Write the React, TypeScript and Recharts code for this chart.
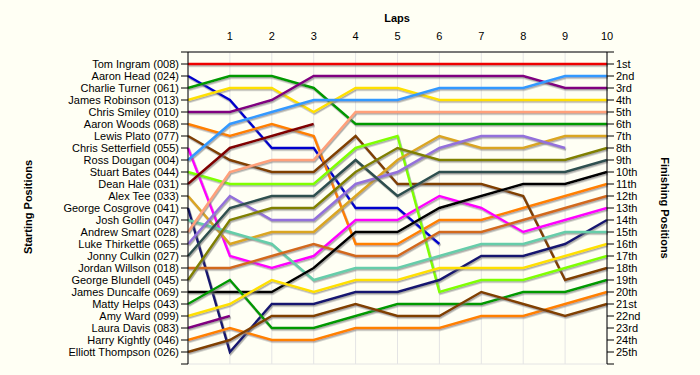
import { CartesianGrid, Line, LineChart, XAxis, YAxis } from "recharts";

const laps = [0, 1, 2, 3, 4, 5, 6, 7, 8, 9, 10];

const starters = [
  "Tom Ingram (008)",
  "Aaron Head (024)",
  "Charlie Turner (061)",
  "James Robinson (013)",
  "Chris Smiley (010)",
  "Aaron Woods (068)",
  "Lewis Plato (077)",
  "Chris Setterfield (055)",
  "Ross Dougan (004)",
  "Stuart Bates (044)",
  "Dean Hale (031)",
  "Alex Tee (033)",
  "George Cosgrove (041)",
  "Josh Gollin (047)",
  "Andrew Smart (028)",
  "Luke Thirkettle (065)",
  "Jonny Culkin (027)",
  "Jordan Willson (018)",
  "George Blundell (045)",
  "James Duncalfe (069)",
  "Matty Helps (043)",
  "Amy Ward (099)",
  "Laura Davis (083)",
  "Harry Kightly (046)",
  "Elliott Thompson (026)",
];

const finishLabels = [
  "1st", "2nd", "3rd", "4th", "5th", "6th", "7th", "8th", "9th", "10th",
  "11th", "12th", "13th", "14th", "15th", "16th", "17th", "18th", "19th", "20th",
  "21st", "22nd", "23rd", "24th", "25th",
];

// position at each lap (lap 0 = grid), shorter arrays = retired
const tomIngram = [1, 1, 1, 1, 1, 1, 1, 1, 1, 1, 1];
const aaronHead = [2, 4, 8, 8, 13, 13, 16];
const charlieTurner = [3, 2, 2, 3, 6, 6, 6, 6, 6, 6, 6];
const jamesRobinson = [4, 3, 3, 5, 3, 3, 4, 4, 4, 4, 4];
const chrisSmiley = [5, 5, 4, 2, 2, 2, 2, 2, 2, 3, 3];
const aaronWoods = [6, 7, 6, 7, 16, 16, 14, 14, 13, 12, 11];
const lewisPlato = [7, 9, 10, 10, 7, 11, 11, 11, 12, 19, 18];
const chrisSetterfield = [8, 17, 18, 17, 14, 14, 12, 13, 15, 14, 13];
const rossDougan = [9, 6, 5, 4, 4, 4, 3, 3, 3, 2, 2];
const stuartBates = [10, 11, 11, 11, 8, 7, 20, 19, 19, 18, 17];
const deanHale = [11, 8, 7, 6];
const alexTee = [12, 16, 15, 15, 12, 9, 7, 8, 8, 7, 7];
const georgeCosgrove = [13, 25, 21, 21, 20, 20, 19, 17, 17, 16, 14];
const joshGollin = [14, 15, 16, 19, 18, 18, 17, 16, 16, 15, 15];
const andrewSmart = [15, 10, 9, 9, 5, 5, 5, 5, 5, 5, 5];
const lukeThirkettle = [16, 12, 14, 14, 11, 10, 8, 7, 7, 8];
const jonnyCulkin = [17, 13, 12, 12, 9, 12, 10, 10, 10, 10, 9];
const jordanWillson = [18, 18, 17, 16, 17, 17, 15, 15, 14, 13, 12];
const georgeBlundell = [19, 14, 13, 13, 10, 8, 9, 9, 9, 9, 8];
const jamesDuncalfe = [20, 20, 20, 18, 15, 15, 13, 12, 11, 11, 10];
const mattyHelps = [21, 19, 23, 23, 22, 21, 21, 21, 20, 20, 19];
const amyWard = [22, 21, 19, 20, 19, 19, 18, 18, 18, 17, 16];
const lauraDavis = [23, 22];
const harryKightly = [24, 23, 24, 24, 23, 23, 23, 22, 22, 21, 20];
const elliottThompson = [25, 24, 22, 22, 21, 22, 22, 20, 21, 22, 21];

const positions = [
  tomIngram, aaronHead, charlieTurner, jamesRobinson, chrisSmiley,
  aaronWoods, lewisPlato, chrisSetterfield, rossDougan, stuartBates,
  deanHale, alexTee, georgeCosgrove, joshGollin, andrewSmart,
  lukeThirkettle, jonnyCulkin, jordanWillson, georgeBlundell, jamesDuncalfe,
  mattyHelps, amyWard, lauraDavis, harryKightly, elliottThompson,
];

const colors = [
  "#ee0000", "#0000cc", "#009900", "#ffe000", "#800080",
  "#ff8000", "#804000", "#ff00ff", "#3399ff", "#80ff00",
  "#800000", "#daa520", "#191970", "#66cdaa", "#ffa07a",
  "#9370db", "#2f4f4f", "#d2691e", "#808000", "#000000",
  "#009900", "#ffe000", "#800080", "#ff8000", "#804000",
];

const rows = laps.map((lap, i) => {
  const r: Record<string, number> = { lap };
  positions.forEach((p, j) => {
    if (i < p.length) r["d" + j] = p[i];
  });
  return r;
});

const yTicks = Array.from({ length: 27 }, (_, i) => i);
const font = '"Liberation Sans", Arial, sans-serif';

const title = { position: "absolute" as const, fontFamily: font, fontSize: 11, fontWeight: "bold" as const, color: "#000", whiteSpace: "nowrap" as const };

export default function App() {
  return (
    <div style={{ position: "absolute", left: 0, top: 0, width: 700, height: 375, background: "#fffff4", fontFamily: font }}>
      <div style={{ ...title, left: 397, top: 18, transform: "translate(-50%, -50%)" }}>Laps</div>
      <div style={{ ...title, left: 28, top: 207, transform: "translate(-50%, -50%) rotate(-90deg)" }}>Starting Positions</div>
      <div style={{ ...title, left: 665, top: 208, transform: "translate(-50%, -50%) rotate(90deg)" }}>Finishing Positions</div>
      <LineChart width={700} height={375} data={rows} margin={{ top: 22, right: 8, bottom: 11, left: 8 }}>
        <defs>
          <filter id="shadow" filterUnits="userSpaceOnUse" x="0" y="0" width="700" height="375">
            <feDropShadow dx="1" dy="1.5" stdDeviation="0.4" floodColor="#777" floodOpacity="0.6" />
          </filter>
        </defs>
        <CartesianGrid stroke="#e4e4e4" />
        <XAxis
          xAxisId="t"
          dataKey="lap"
          type="number"
          domain={[0, 10]}
          ticks={[1, 2, 3, 4, 5, 6, 7, 8, 9, 10]}
          orientation="top"
          height={30}
          tickLine={false}
          tickMargin={6}
          stroke="#000"
          tick={{ fontSize: 11, fill: "#000", fontFamily: font }}
        />
        <YAxis
          yAxisId="l"
          type="number"
          domain={[0, 26]}
          reversed
          ticks={yTicks}
          interval={0}
          width={180}
          tickSize={7}
          stroke="#000"
          tickFormatter={(v: number) => starters[v - 1] ?? ""}
          tick={{ fontSize: 11, fill: "#000", fontFamily: font }}
        />
        <YAxis
          yAxisId="r"
          orientation="right"
          type="number"
          domain={[0, 26]}
          reversed
          ticks={yTicks}
          interval={0}
          width={85}
          tickSize={7}
          stroke="#000"
          tickFormatter={(v: number) => finishLabels[v - 1] ?? ""}
          tick={{ fontSize: 11, fill: "#000", fontFamily: font }}
        />
        {positions.map((_, j) => (
          <Line
            key={j}
            xAxisId="t"
            yAxisId={j === 0 ? "r" : "l"}
            type="linear"
            dataKey={"d" + j}
            name={starters[j]}
            stroke={colors[j]}
            strokeWidth={2.5}
            dot={false}
            activeDot={false}
            filter="url(#shadow)"
            isAnimationActive={false}
          />
        ))}
      </LineChart>
    </div>
  );
}
